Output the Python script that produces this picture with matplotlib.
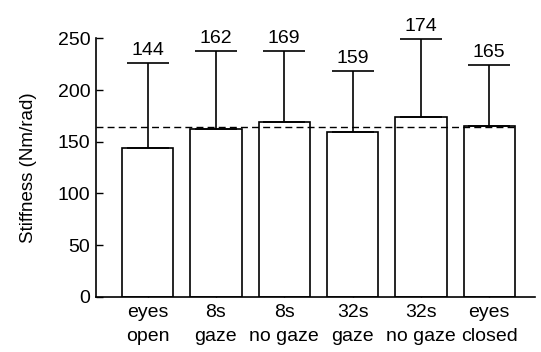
import matplotlib
matplotlib.use("Agg")
import matplotlib.pyplot as plt

categories = ["eyes\nopen", "8s\ngaze", "8s\nno gaze", "32s\ngaze", "32s\nno gaze", "eyes\nclosed"]
means = [144, 162, 169, 159, 174, 165]
errors = [82, 76, 69, 59, 75, 59]
value_labels = ["144", "162", "169", "159", "174", "165"]
reference_line = 164.5
yticks = [0, 50, 100, 150, 200, 250]

plt.rcParams['font.family'] = ['Liberation Sans', 'DejaVu Sans']

fig = plt.figure(figsize=(5.41, 3.52), dpi=100)
ax = fig.add_axes([0.1775, 0.157, 0.8115, 0.734])

x = list(range(len(categories)))
width = 0.75
ax.bar(x, means, width=width, color='white', edgecolor='black', linewidth=1.2, zorder=2)
ax.errorbar(x, means, yerr=[[0]*len(errors), errors], fmt='none', ecolor='black',
            elinewidth=1.2, capsize=15, capthick=1.2, zorder=3, clip_on=False)

for xi, m, e, lab in zip(x, means, errors, value_labels):
    ax.annotate(lab, xy=(xi, m + e), xytext=(0, 3), textcoords='offset points',
                ha='center', va='bottom', fontsize=14, annotation_clip=False)

ax.set_xlim(-0.754, 5.67)
ax.set_ylim(0, 250)
ax.hlines(reference_line, -0.754, x[-1] + width / 2, colors='black',
          linestyles=(0, (5, 3)), linewidth=1.0, zorder=4)

ax.set_yticks(yticks)
ax.set_yticklabels([str(t) for t in yticks], fontsize=14)
ax.set_xticks(x)
ax.set_xticklabels(categories, fontsize=14, linespacing=1.55)
ax.tick_params(axis='y', direction='in', length=5, width=1.0, pad=4)
ax.tick_params(axis='x', direction='in', length=3, width=1.0, pad=5)

ax.spines['top'].set_visible(False)
ax.spines['right'].set_visible(False)
ax.spines['left'].set_linewidth(1.2)
ax.spines['bottom'].set_linewidth(1.2)

ax.set_ylabel("Stiffness (Nm/rad)", fontsize=13.5, labelpad=15)

fig.savefig("out.png", dpi=100)
